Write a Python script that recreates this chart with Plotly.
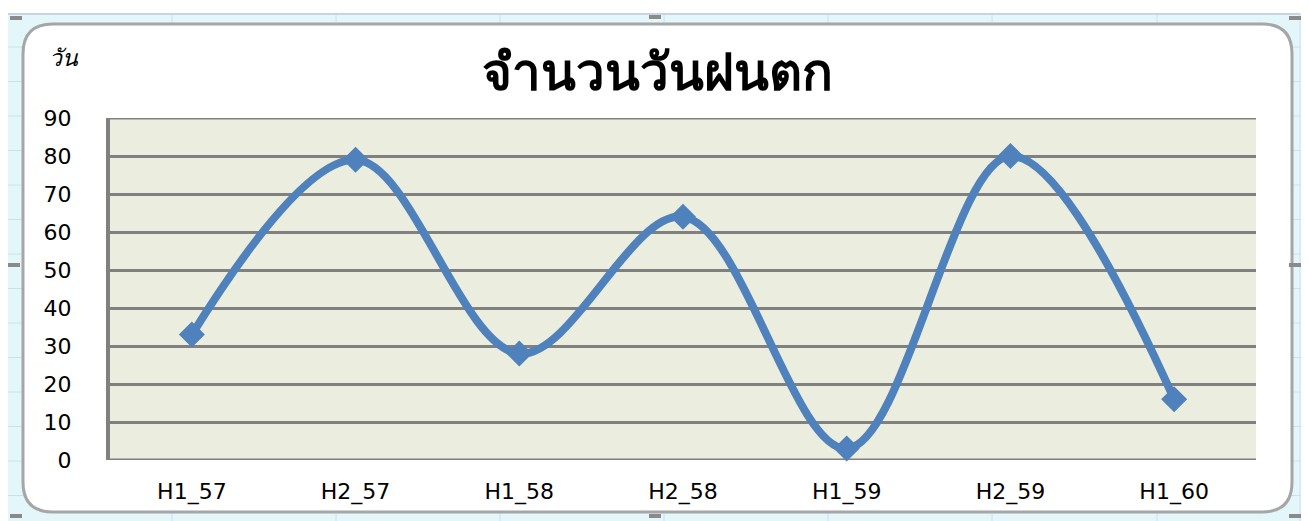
import plotly.graph_objects as go

categories = ["H1_57", "H2_57", "H1_58", "H2_58", "H1_59", "H2_59", "H1_60"]
rain_days = [33, 79, 28, 64, 3, 80, 16]
y_ticks = [0, 10, 20, 30, 40, 50, 60, 70, 80, 90]

OFF = 8  # page body margin in the browser
W, H = 1309 - OFF, 521 - OFF
L, R, T, B = 110, 1256, 118, 460  # plot area in reference px

def px(x):
    return (x - L) / (R - L)

def py(y):
    return (B - y) / (B - T)

shapes = []
shapes.append(dict(type="rect", xref="paper", yref="paper", x0=px(0), x1=px(1320), y0=py(530), y1=py(13),
                   fillcolor="#E3F7FB", line=dict(width=0), layer="below"))
for xv in [172, 336, 500, 664, 828, 992, 1157, 1300]:
    shapes.append(dict(type="line", xref="paper", yref="paper", x0=px(xv), x1=px(xv), y0=py(530), y1=py(13),
                       line=dict(color="#C6E2EA", width=1), layer="below"))
yv = 47
while yv < 530:
    shapes.append(dict(type="line", xref="paper", yref="paper", x0=px(0), x1=px(1320), y0=py(yv), y1=py(yv),
                       line=dict(color="#C6E2EA", width=1), layer="below"))
    yv += 34.5
shapes.append(dict(type="line", xref="paper", yref="paper", x0=px(8), x1=px(1300), y0=py(14), y1=py(14),
                   line=dict(color="#C8D4E4", width=2), layer="below"))

x0, x1, y0, y1, r = 23, 1292, 24, 512, 30
def P(x, y):
    return f"{px(x):.6f},{py(y):.6f}"
path = (f"M {P(x0 + r, y0)} L {P(x1 - r, y0)} Q {P(x1, y0)} {P(x1, y0 + r)} "
        f"L {P(x1, y1 - r)} Q {P(x1, y1)} {P(x1 - r, y1)} L {P(x0 + r, y1)} "
        f"Q {P(x0, y1)} {P(x0, y1 - r)} L {P(x0, y0 + r)} Q {P(x0, y0)} {P(x0 + r, y0)} Z")
shapes.append(dict(type="path", xref="paper", yref="paper", path=path,
                   fillcolor="white", line=dict(color="#A6A6A6", width=3), layer="below"))
shapes.append(dict(type="rect", xref="paper", yref="paper", x0=0, x1=1, y0=0, y1=1,
                   fillcolor="#EBEEDE", line=dict(width=0), layer="below"))
# gridlines at the range ends (top 90 and bottom 0)
for yl in (y_ticks[0], y_ticks[-1]):
    shapes.append(dict(type="line", xref="paper", yref="y", x0=0, x1=1, y0=yl, y1=yl,
                       line=dict(color="#808080", width=3), layer="below"))

for hx, hy in [(16, 18), (655, 17), (1295, 18), (14, 265), (1295, 265), (16, 516), (655, 516), (1295, 516)]:
    shapes.append(dict(type="rect", xref="paper", yref="paper", x0=px(hx - 6), x1=px(hx + 6),
                       y0=py(hy + 2), y1=py(hy - 2), fillcolor="#8A8A8A", line=dict(width=0), layer="above"))

fig = go.Figure()
fig.add_trace(go.Scatter(
    x=categories, y=rain_days, mode="lines+markers",
    line=dict(color="#4F81BD", width=8, shape="spline", smoothing=1.0),
    marker=dict(symbol="diamond", size=20, color="#4F81BD"),
    cliponaxis=False, showlegend=False,
))

fig.update_layout(
    width=W, height=H,
    margin=dict(l=L - OFF, r=W - (R - OFF), t=T - OFF, b=H - (B - OFF)),
    paper_bgcolor="white", plot_bgcolor="rgba(0,0,0,0)",
    shapes=shapes,
    font=dict(family="DejaVu Sans", color="black"),
    annotations=[
        dict(text="<b>จำนวนวันฝนตก</b>", xref="paper", yref="paper", x=px(657), y=py(70),
             showarrow=False, font=dict(size=51, color="black", family="Noto Sans, DejaVu Sans"),
             xanchor="center", yanchor="middle"),
        dict(text="<i>วัน</i>", xref="paper", yref="paper", x=px(64), y=py(57),
             showarrow=False, font=dict(size=23, color="black", family="Noto Sans, DejaVu Sans"),
             xanchor="center", yanchor="middle"),
    ],
)
fig.update_xaxes(
    type="category", range=[-0.5, 6.5], showgrid=False, zeroline=False,
    showline=False, ticks="", tickfont=dict(size=22, family="DejaVu Sans"),
    ticklabelstandoff=16,
)
fig.update_yaxes(
    range=[0, 90], tickvals=y_ticks, showgrid=True, gridcolor="#808080", gridwidth=3,
    zeroline=False, showline=True, linecolor="#808080", linewidth=4,
    ticks="", tickfont=dict(size=22, family="DejaVu Sans"), ticklabelstandoff=30,
)
fig.write_html("out.html")
